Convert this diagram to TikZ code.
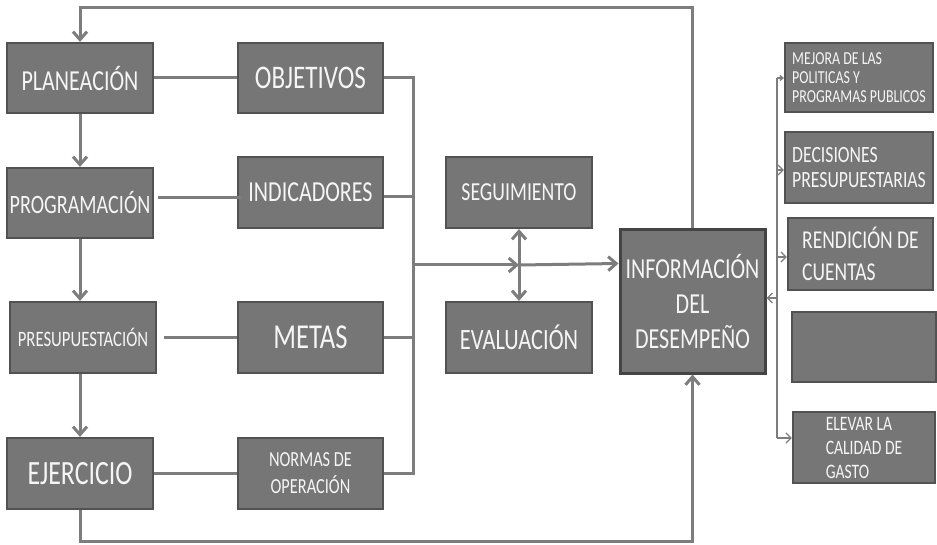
\documentclass[tikz,border=0pt]{standalone}
\usepackage{fontspec}
\setmainfont{Carlito}[FakeStretch=0.76]
\usetikzlibrary{arrows.meta,calc}
\definecolor{boxfill}{RGB}{118,118,118}
\definecolor{boxline}{RGB}{82,82,82}
\definecolor{conncol}{RGB}{125,125,125}
\definecolor{txt}{RGB}{245,245,245}
\newcommand\myfs[2]{\fontsize{#1}{#2}\selectfont}
\begin{document}
\begin{tikzpicture}[x=1pt,y=-1pt,
  box/.style 2 args={draw=boxline, line width=2.2pt, fill=boxfill, text=txt,
    inner sep=0pt, align=center, minimum width=#1, minimum height=#2},
  rbox/.style 2 args={box={#1}{#2}, align=left},
  conn/.style={draw=conncol, line width=3pt},
  arr/.style={conn, -{Straight Barb[length=8pt,width=14pt]}},
  darr/.style={conn, {Straight Barb[length=8pt,width=14pt]}-{Straight Barb[length=8pt,width=14pt]}},
  thin/.style={draw=conncol, line width=1.3pt},
  thinarr/.style={thin, -{Straight Barb[length=5pt,width=10pt]}},
  tinyarr/.style={thin, -{Straight Barb[length=3pt,width=5pt]}}]
\useasboundingbox (0,0) rectangle (937,545);

% left column
\node[box={146}{70}, font=\myfs{29}{32}] (plan) at (80,78) {PLANEACIÓN};
\node[box={146}{70}, font=\myfs{26.5}{30}] (prog) at (80,203) {PROGRAMACIÓN};
\node[box={146}{71}, font=\myfs{22}{26}] (presu) at (83,337.5) {PRESUPUESTACIÓN};
\node[box={146}{71}, font=\myfs{34}{38}] (ejer) at (80,473.5) {EJERCICIO};

% second column
\node[box={145}{70}, font=\myfs{33}{36}] (obj) at (310.5,78) {OBJETIVOS};
\node[box={145}{71}, font=\myfs{29}{32}] (indic) at (310.5,192.5) {INDICADORES};
\node[box={145}{71}, font=\myfs{35}{38}] (metas) at (310.5,337.5) {METAS};
\node[box={145}{71}, font=\myfs{21.5}{27}] (normas) at (310.5,473.5) {NORMAS DE\\OPERACIÓN};

% third column
\node[box={146}{71}, font=\myfs{26}{30}] (seg) at (519,192.5) {SEGUIMIENTO};
\node[box={146}{71}, font=\myfs{29.5}{33}] (eval) at (519,337.5) {EVALUACIÓN};

% information
\node[box={145}{143}, line width=3pt, draw={rgb,255:red,68;green,68;blue,68}, font=\myfs{29}{35}] (info) at (692.5,301.5)
  {INFORMACIÓN\\DEL\\DESEMPEÑO};

% right column
\node[rbox={148}{69}, font=\myfs{18.3}{19}] (mejora) at (859,77.5) {MEJORA DE LAS\\POLITICAS Y\\PROGRAMAS PUBLICOS};
\node[rbox={148}{71}, font=\myfs{23.3}{25}] (decis) at (859,167.5) {DECISIONES\\PRESUPUESTARIAS};
\node[rbox={145}{72}, font=\myfs{25.7}{32}] (rend) at (860.5,254) {RENDICIÓN DE\\CUENTAS};
\node[rbox={144}{70}] (empty) at (864,347) {};
\node[rbox={142}{71}, font=\myfs{20.5}{24}] (elevar) at (864,447.5) {ELEVAR LA\\CALIDAD DE\\GASTO};

% left vertical arrows
\draw[arr] (plan) -- (prog);
\draw[arr] (prog.south) -- (prog.south |- presu.north);
\draw[arr] (presu.south -| prog.south) -- (ejer.north);

% horizontal links
\draw[conn] (plan) -- (obj);
\draw[conn] ([xshift=4pt,yshift=5pt]prog.east) -- ([xshift=4pt,yshift=5pt]prog.east -| indic.west);
\draw[conn] ([xshift=7pt]presu.east) -- (metas.west);
\draw[conn] (ejer) -- (normas);

% bus
\coordinate (busx) at (413,265);
\coordinate (cross) at (519,265);
\draw[conn] (obj.east) -| (busx);
\draw[conn] (normas.east) -| (busx);
\draw[conn] ([yshift=-4pt]indic.east) -- ([yshift=-4pt]indic.east -| busx);
\draw[conn] (metas.east) -- (metas.east -| busx);
\draw[arr] (busx) -- (cross);
\draw[arr] (cross) -- ([yshift=38pt]info.west);
\draw[darr] (seg) -- (eval);

% loops
\coordinate (tl) at (80,8);
\coordinate (bl) at (80,541);
\draw[arr] (info.north) |- (tl) -- (plan.north);
\draw[arr] (ejer.south) -- (bl) -| (info.south);

% right distribution line
\coordinate (rt) at (777,78);
\coordinate (rb) at (777,438);
\draw[thin] (rt) -- (rb);
\draw[tinyarr] (rt) -- (rt -| mejora.west);
\draw[thinarr] ([yshift=-2.5pt]decis.west -| rt) -- ([yshift=-2.5pt]decis.west);
\draw[thinarr] ([yshift=-3pt]rend.west -| rt) -- ([yshift=-3pt]rend.west);
\draw[thinarr] ([yshift=3.5pt]info.east -| rt) -- ([yshift=3.5pt]info.east);
\draw[thinarr] (rb) -- (rb -| elevar.west);
\end{tikzpicture}
\end{document}
